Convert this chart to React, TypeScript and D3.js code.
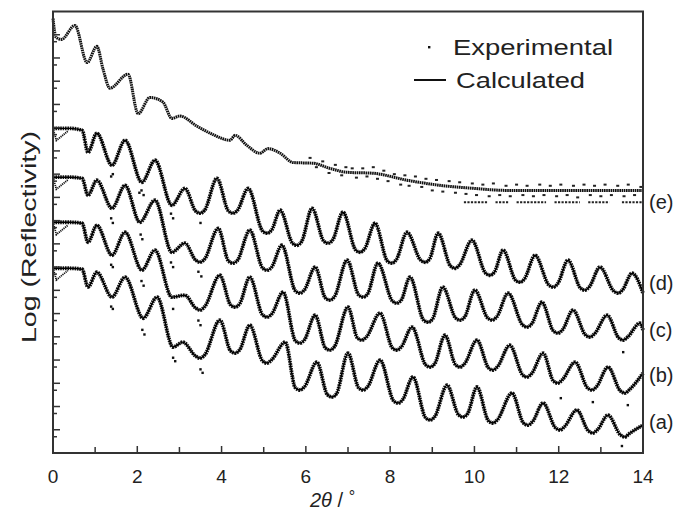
import React from 'react'
import * as d3 from 'd3'

type Pt = [number, number]

// 2θ (deg) vs log reflectivity (decades, arbitrary offset)
const sampleE: Pt[] = [
  [0, 18.7], [0.07, 17.9], [0.2, 17.8], [0.52, 18.4], [0.81, 16.8], [1.04, 17.5], [1.19, 16.5],
  [1.35, 15.7], [1.78, 16.3], [2.02, 14.6], [2.3, 15.3], [2.61, 15.1], [2.82, 14.4], [3.01, 14.5],
  [3.42, 14.06], [3.8, 13.7], [4.2, 13.46], [4.32, 13.67], [4.6, 13.24], [4.91, 12.9], [5.1, 13.1],
  [5.39, 12.9], [5.7, 12.5], [6.17, 12.47], [6.57, 12.25], [6.98, 12.08], [7.59, 12.04], [8.4, 11.74],
  [9.18, 11.52], [9.97, 11.39], [10.77, 11.3], [11.56, 11.3], [12.5, 11.3], [14, 11.3],
]
const sampleENoise: Pt[] = [
  [6.1, 12.7], [6.25, 12.3], [6.4, 12.55], [6.55, 12.05], [6.7, 12.4], [6.85, 11.95], [6.95, 12.3],
  [7.1, 12.25], [7.2, 11.85], [7.35, 12.25], [7.45, 11.9], [7.6, 12.3], [7.7, 11.8], [7.85, 12.15],
  [7.95, 11.7], [8.1, 12.0], [8.25, 11.55], [8.35, 11.95], [8.45, 11.5], [8.6, 11.9], [8.75, 11.45],
  [8.85, 11.8], [9.0, 11.3], [9.1, 11.75], [9.25, 11.25], [9.4, 11.7], [9.55, 11.2], [9.65, 11.65],
  [9.8, 11.15], [9.95, 11.6], [10.05, 11.1], [10.2, 11.55], [10.35, 11.05], [10.45, 11.6], [10.6, 11.1],
  [10.75, 11.5], [10.85, 11.05], [11.0, 11.55], [11.15, 11.1], [11.25, 11.5], [11.4, 11.05], [11.55, 11.55],
  [11.65, 11.1], [11.8, 11.5], [11.95, 11.05], [12.05, 11.55], [12.2, 11.1], [12.35, 11.5], [12.45, 11.0],
  [12.6, 11.55], [12.75, 11.1], [12.85, 11.5], [13.0, 11.05], [13.1, 11.55], [13.25, 11.1], [13.4, 11.5],
  [13.55, 11.05], [13.65, 11.55], [13.8, 11.1], [13.95, 11.45],
]
// background floor of sample (e): [from, to] in 2θ
const floorLevel = 10.79
const floorSegs: Pt[] = [[9.75, 10.3], [10.5, 10.8], [11.0, 11.7], [11.9, 12.5], [12.7, 13.2], [13.5, 14]]

const sampleD: Pt[] = [
  [0, 13.97], [0.4, 13.97], [0.69, 13.89], [0.83, 12.94], [1.04, 13.76], [1.4, 12.38], [1.71, 13.46],
  [2.11, 11.65], [2.42, 12.6], [2.82, 10.66], [3.13, 11.39],
  [3.38, 10.42], [3.49, 10.32], [3.6, 10.45], [3.89, 11.82],
  [4.16, 10.42], [4.27, 10.32], [4.38, 10.45], [4.63, 11.39],
  [4.97, 9.56], [5.08, 9.46], [5.19, 9.6], [5.39, 10.45],
  [5.68, 9.04], [5.79, 8.94], [5.9, 9.1], [6.15, 10.53],
  [6.42, 9.13], [6.53, 9.03], [6.64, 9.18], [6.88, 10.36],
  [7.18, 8.74], [7.29, 8.64], [7.4, 8.8], [7.64, 9.89],
  [7.93, 8.27], [8.04, 8.17], [8.15, 8.33], [8.4, 9.5],
  [8.72, 8.31], [8.83, 8.21], [8.94, 8.36], [9.14, 9.46],
  [9.43, 8.05], [9.54, 7.95], [9.65, 8.1], [9.94, 9.16],
  [10.26, 7.75], [10.37, 7.65], [10.48, 7.8], [10.68, 8.73],
  [10.97, 7.45], [11.08, 7.35], [11.19, 7.5], [11.44, 8.51],
  [11.76, 7.24], [11.87, 7.14], [11.98, 7.3], [12.22, 8.3],
  [12.51, 7.11], [12.62, 7.01], [12.73, 7.16], [12.98, 8.0],
  [13.3, 6.98], [13.41, 6.88], [13.52, 7.03], [13.74, 7.74], [14, 6.88],
]
const sampleC: Pt[] = [
  [0, 11.87], [0.4, 11.87], [0.69, 11.82], [0.83, 11.09], [1.04, 11.74], [1.4, 10.53], [1.71, 11.52],
  [2.06, 9.93], [2.42, 10.88], [2.82, 8.64], [3.13, 9.03],
  [3.38, 8.31], [3.49, 8.21], [3.6, 8.35], [3.92, 9.67],
  [4.16, 8.27], [4.27, 8.17], [4.38, 8.3], [4.67, 9.59],
  [4.97, 7.97], [5.08, 7.87], [5.19, 8.0], [5.43, 8.94],
  [5.75, 6.98], [5.86, 6.88], [5.97, 7.03], [6.22, 8.0],
  [6.46, 6.68], [6.57, 6.58], [6.68, 6.73], [6.98, 8.3],
  [7.25, 6.81], [7.36, 6.71], [7.47, 6.86], [7.71, 8.17],
  [8.05, 6.55], [8.16, 6.45], [8.27, 6.6], [8.47, 7.57],
  [8.79, 5.73], [8.9, 5.63], [9.01, 5.78], [9.25, 7.14],
  [9.55, 5.82], [9.66, 5.72], [9.77, 5.86], [10.01, 7.01],
  [10.31, 5.82], [10.42, 5.72], [10.53, 5.86], [10.8, 6.88],
  [11.14, 5.52], [11.25, 5.42], [11.36, 5.56], [11.6, 6.49],
  [11.87, 5.26], [11.98, 5.16], [12.09, 5.3], [12.34, 6.15],
  [12.63, 5.09], [12.74, 4.99], [12.85, 5.13], [13.15, 5.93],
  [13.42, 4.96], [13.53, 4.86], [13.64, 5.0], [13.93, 5.59], [14, 5.29],
]
const sampleB: Pt[] = [
  [0, 9.93], [0.4, 9.93], [0.69, 9.89], [0.83, 9.07], [1.04, 9.8], [1.4, 8.51], [1.71, 9.5],
  [2.11, 7.87], [2.42, 8.73], [2.82, 6.71], [3.13, 6.79],
  [3.38, 6.25], [3.49, 6.15], [3.6, 6.3], [3.96, 7.65],
  [4.21, 6.38], [4.32, 6.28], [4.43, 6.42], [4.67, 7.57],
  [4.97, 5.95], [5.08, 5.85], [5.19, 5.98], [5.46, 6.92],
  [5.75, 4.83], [5.86, 4.73], [5.97, 4.88], [6.22, 5.93],
  [6.46, 4.53], [6.57, 4.43], [6.68, 4.58], [7.0, 6.28],
  [7.22, 4.96], [7.33, 4.86], [7.44, 5.0], [7.76, 6.02],
  [8.05, 4.53], [8.16, 4.43], [8.27, 4.58], [8.52, 5.42],
  [8.84, 3.8], [8.95, 3.7], [9.06, 3.85], [9.3, 5.07],
  [9.55, 3.8], [9.66, 3.7], [9.77, 3.85], [10.06, 4.86],
  [10.33, 3.67], [10.44, 3.57], [10.55, 3.72], [10.84, 4.64],
  [11.14, 3.37], [11.25, 3.27], [11.36, 3.42], [11.63, 4.3],
  [11.87, 3.11], [11.98, 3.01], [12.09, 3.16], [12.39, 3.91],
  [12.68, 2.81], [12.79, 2.71], [12.9, 2.86], [13.17, 3.7],
  [13.46, 2.68], [13.57, 2.58], [13.68, 2.73], [14, 3.44],
]
const sampleA: Pt[] = [
  [0, 7.95], [0.4, 7.95], [0.69, 7.91], [0.83, 7.14], [1.04, 7.78], [1.4, 6.71], [1.71, 7.57],
  [2.14, 5.8], [2.47, 6.71], [2.85, 4.56], [3.08, 4.77],
  [3.38, 4.18], [3.49, 4.08], [3.6, 4.22], [3.96, 5.72],
  [4.21, 4.4], [4.32, 4.3], [4.43, 4.44], [4.67, 5.5],
  [4.97, 3.97], [5.08, 3.87], [5.19, 4.01], [5.51, 4.77],
  [5.75, 2.81], [5.86, 2.71], [5.97, 2.86], [6.26, 3.91],
  [6.51, 2.51], [6.62, 2.41], [6.73, 2.56], [7.0, 4.3],
  [7.25, 2.81], [7.36, 2.71], [7.47, 2.86], [7.76, 4.0],
  [8.08, 2.25], [8.19, 2.15], [8.3, 2.3], [8.54, 3.27],
  [8.84, 1.52], [8.95, 1.42], [9.06, 1.57], [9.35, 2.92],
  [9.62, 1.65], [9.73, 1.55], [9.84, 1.7], [10.06, 2.84],
  [10.33, 1.39], [10.44, 1.29], [10.55, 1.44], [10.89, 2.58],
  [11.16, 1.3], [11.27, 1.2], [11.38, 1.35], [11.63, 2.15],
  [11.92, 1.09], [12.03, 0.99], [12.14, 1.14], [12.43, 1.85],
  [12.7, 0.96], [12.81, 0.86], [12.92, 1.0], [13.17, 1.63],
  [13.46, 0.79], [13.57, 0.69], [13.68, 0.84], [14, 1.2],
]
// experimental points near the critical angle (dip below the fit)
const headD: Pt[] = [[0, 13.97], [0.08, 13.45], [0.35, 13.85]]
const headC: Pt[] = [[0, 11.87], [0.08, 11.35], [0.35, 11.75]]
const headB: Pt[] = [[0, 9.93], [0.08, 9.4], [0.35, 9.8]]
const headA: Pt[] = [[0, 7.95], [0.08, 7.45], [0.35, 7.85]]
// stray experimental points below the fit
const strayD: Pt[] = [[1.42, 12.0], [1.38, 11.9], [2.1, 11.3], [2.15, 11.1], [2.05, 11.2], [2.8, 10.3], [2.85, 10.1], [3.5, 9.9]]
const strayC: Pt[] = [[1.42, 9.9], [1.38, 10.1], [2.08, 9.4], [2.12, 9.2], [2.8, 8.2], [2.85, 8.0], [3.45, 7.8], [3.52, 7.6], [13.53, 4.34]]
const strayB: Pt[] = [[1.42, 8.0], [1.38, 8.1], [2.1, 7.4], [2.15, 7.2], [2.85, 6.2], [3.45, 5.7], [3.5, 5.5], [12.05, 2.36], [12.81, 2.19], [13.64, 2.06]]
const strayA: Pt[] = [[1.42, 6.2], [1.38, 6.3], [2.12, 5.3], [2.17, 5.1], [2.85, 4.1], [2.9, 3.95], [3.5, 3.6], [3.55, 3.45], [13.5, 0.3]]

const rowLabels = ['(a)', '(b)', '(c)', '(d)', '(e)']
const labelLevels = [1.33, 3.35, 5.29, 7.31, 10.79]
const xTicks = [0, 2, 4, 6, 8, 10, 12, 14]
const xMinor = [1, 3, 5, 7, 9, 11, 13]
const yMajor = d3.range(1, 19)

const W = 684
const H = 519
const font = '"Liberation Sans", Arial, sans-serif'

export default function App() {
  const x = d3.scaleLinear().domain([0, 14]).range([53, 643])
  const y = d3.scaleLinear().domain([0, 19]).range([453, 11.5])
  const line = d3.line<Pt>().x(d => x(d[0])).y(d => y(d[1])).curve(d3.curveMonotoneX)
  const lin = d3.line<Pt>().x(d => x(d[0])).y(d => y(d[1]))

  const fitted = [sampleA, sampleB, sampleC, sampleD]
  const heads = [headA, headB, headC, headD]
  const strays = [strayA, strayB, strayC, strayD]

  return (
    <svg width={W} height={H} style={{ position: 'absolute', left: 0, top: 0, background: '#fff' }} fontFamily={font}>
      {/* experimental, dense dots along the curves */}
      {fitted.map((s, i) => (
        <path key={'exp' + i} d={line(s) || ''} fill='none' stroke='#111' strokeWidth={3.8} strokeDasharray='1.6 0.8' />
      ))}
      {/* calculated fits */}
      {fitted.map((s, i) => (
        <path key={'calc' + i} d={line(s) || ''} fill='none' stroke='#000' strokeWidth={1.4} />
      ))}
      {heads.map((s, i) => (
        <path key={'head' + i} d={lin(s) || ''} fill='none' stroke='#111' strokeWidth={1.8} strokeDasharray='1.2 0.8' />
      ))}
      {strays.map((s, i) => s.map((p, j) => (
        <rect key={`st${i}-${j}`} x={x(p[0]) - 1.2} y={y(p[1]) - 1.2} width={2.4} height={2.4} fill='#111' />
      )))}

      {/* sample (e): experimental only */}
      <path d={line(sampleE) || ''} fill='none' stroke='#111' strokeWidth={3} strokeDasharray='1.6 0.6' />
      {sampleENoise.map((p, i) => (
        <rect key={'n' + i} x={x(p[0]) - 1.5} y={y(p[1]) - 1} width={3} height={2} fill='#222' />
      ))}
      {floorSegs.map((s, i) => (
        <line key={'f' + i} x1={x(s[0])} x2={x(s[1])} y1={y(floorLevel)} y2={y(floorLevel)}
          stroke='#222' strokeWidth={1.8} strokeDasharray='2.2 1.3' />
      ))}

      {/* frame */}
      <rect x={53} y={11.5} width={590} height={441.5} fill='none' stroke='#333' strokeWidth={2} />
      {xTicks.map(t => (
        <g key={'xt' + t}>
          <line x1={x(t)} x2={x(t)} y1={453} y2={446} stroke='#333' strokeWidth={1.5} />
          <text x={x(t)} y={483} textAnchor='middle' fontSize={19} fill='#222'>{t}</text>
        </g>
      ))}
      {xMinor.map(t => (
        <line key={'xm' + t} x1={x(t)} x2={x(t)} y1={453} y2={447} stroke='#333' strokeWidth={1.5} />
      ))}
      {yMajor.map(t => (
        <g key={'ym' + t}>
          <line x1={53} x2={60} y1={y(t)} y2={y(t)} stroke='#333' strokeWidth={1.5} />
          <line x1={53} x2={57} y1={y(t - 0.3)} y2={y(t - 0.3)} stroke='#333' strokeWidth={1.5} />
        </g>
      ))}

      {/* axis titles */}
      <text transform='translate(36,237) rotate(-90)' textAnchor='middle' fontSize={21} fill='#222'
        textLength={212} lengthAdjust='spacingAndGlyphs'>Log (Reflectivity)</text>
      <text x={310} y={507} fontSize={20} fill='#222'>
        <tspan fontStyle='italic'>2θ</tspan>
        <tspan> / </tspan>
        <tspan dy={-5} fontSize={16}>°</tspan>
      </text>

      {/* row labels */}
      {rowLabels.map((l, i) => (
        <text key={l} x={649} y={y(labelLevels[i]) + 7} fontSize={20} fill='#222'>{l}</text>
      ))}

      {/* legend */}
      <rect x={428} y={46} width={2.4} height={2.4} fill='#111' />
      <text x={453} y={55} fontSize={22} fill='#222' textLength={160} lengthAdjust='spacingAndGlyphs'>Experimental</text>
      <line x1={414} x2={446} y1={80} y2={80} stroke='#111' strokeWidth={2} />
      <text x={456} y={88} fontSize={22} fill='#222' textLength={129} lengthAdjust='spacingAndGlyphs'>Calculated</text>
    </svg>
  )
}
